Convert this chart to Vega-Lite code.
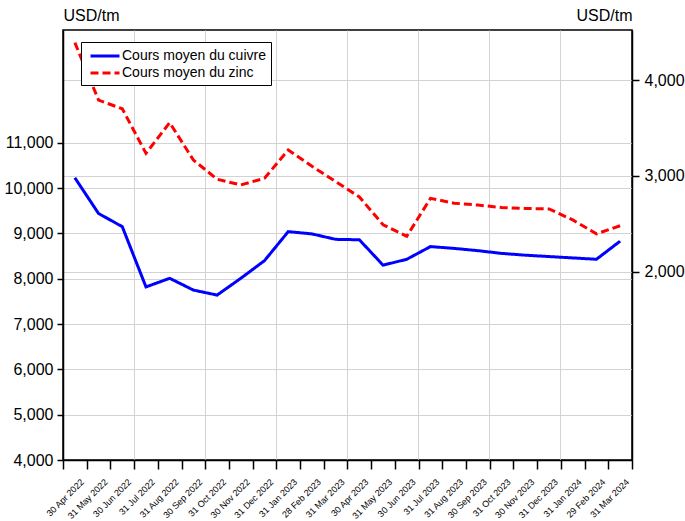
{
  "$schema": "https://vega.github.io/schema/vega-lite/v6.json",
  "width": 569,
  "height": 430,
  "autosize": {"type": "none"},
  "padding": {"left": 63, "top": 30, "right": 53, "bottom": 61},
  "background": "white",
  "config": {
    "font": "Liberation Sans",
    "view": {"stroke": "#000", "strokeWidth": 1.5},
    "axis": {
      "labelFont": "Liberation Sans",
      "titleFont": "Liberation Sans",
      "labelColor": "#000",
      "titleColor": "#000",
      "domainColor": "#000",
      "tickColor": "#000",
      "domainWidth": 1.5,
      "tickWidth": 1.5,
      "gridColor": "#d3d3d3",
      "gridWidth": 1,
      "titleFontWeight": "normal"
    },
    "legend": {
      "orient": "none",
      "legendX": 18,
      "legendY": 12,
      "symbolType": "M-2,0H2",
      "symbolSize": 210,
      "symbolStrokeWidth": 3,
      "symbolOffset": 10,
      "labelFontSize": 14,
      "labelFont": "Liberation Sans",
      "labelColor": "#000",
      "labelLimit": 400,
      "strokeColor": "#000",
      "fillColor": "#fff",
      "padding": 5,
      "rowPadding": 1,
      "labelOffset": 8
    }
  },
  "data": {
    "values": [
      {"date": "30 Apr 2022", "serie": "Cours moyen du cuivre", "value": 10230},
      {"date": "31 May 2022", "serie": "Cours moyen du cuivre", "value": 9440},
      {"date": "30 Jun 2022", "serie": "Cours moyen du cuivre", "value": 9150},
      {"date": "31 Jul 2022", "serie": "Cours moyen du cuivre", "value": 7820},
      {"date": "31 Aug 2022", "serie": "Cours moyen du cuivre", "value": 8010},
      {"date": "30 Sep 2022", "serie": "Cours moyen du cuivre", "value": 7750},
      {"date": "31 Oct 2022", "serie": "Cours moyen du cuivre", "value": 7640},
      {"date": "30 Nov 2022", "serie": "Cours moyen du cuivre", "value": 8010},
      {"date": "31 Dec 2022", "serie": "Cours moyen du cuivre", "value": 8400},
      {"date": "31 Jan 2023", "serie": "Cours moyen du cuivre", "value": 9040},
      {"date": "28 Feb 2023", "serie": "Cours moyen du cuivre", "value": 8990},
      {"date": "31 Mar 2023", "serie": "Cours moyen du cuivre", "value": 8870},
      {"date": "30 Apr 2023", "serie": "Cours moyen du cuivre", "value": 8860},
      {"date": "31 May 2023", "serie": "Cours moyen du cuivre", "value": 8300},
      {"date": "30 Jun 2023", "serie": "Cours moyen du cuivre", "value": 8430},
      {"date": "31 Jul 2023", "serie": "Cours moyen du cuivre", "value": 8710},
      {"date": "31 Aug 2023", "serie": "Cours moyen du cuivre", "value": 8670},
      {"date": "30 Sep 2023", "serie": "Cours moyen du cuivre", "value": 8620},
      {"date": "31 Oct 2023", "serie": "Cours moyen du cuivre", "value": 8560},
      {"date": "30 Nov 2023", "serie": "Cours moyen du cuivre", "value": 8520},
      {"date": "31 Dec 2023", "serie": "Cours moyen du cuivre", "value": 8490},
      {"date": "31 Jan 2024", "serie": "Cours moyen du cuivre", "value": 8460},
      {"date": "29 Feb 2024", "serie": "Cours moyen du cuivre", "value": 8430},
      {"date": "31 Mar 2024", "serie": "Cours moyen du cuivre", "value": 8830},
      {"date": "30 Apr 2022", "serie": "Cours moyen du zinc", "value": 4390},
      {"date": "31 May 2022", "serie": "Cours moyen du zinc", "value": 3790},
      {"date": "30 Jun 2022", "serie": "Cours moyen du zinc", "value": 3700},
      {"date": "31 Jul 2022", "serie": "Cours moyen du zinc", "value": 3235},
      {"date": "31 Aug 2022", "serie": "Cours moyen du zinc", "value": 3555},
      {"date": "30 Sep 2022", "serie": "Cours moyen du zinc", "value": 3165},
      {"date": "31 Oct 2022", "serie": "Cours moyen du zinc", "value": 2965},
      {"date": "30 Nov 2022", "serie": "Cours moyen du zinc", "value": 2905},
      {"date": "31 Dec 2022", "serie": "Cours moyen du zinc", "value": 2975},
      {"date": "31 Jan 2023", "serie": "Cours moyen du zinc", "value": 3270},
      {"date": "28 Feb 2023", "serie": "Cours moyen du zinc", "value": 3100},
      {"date": "31 Mar 2023", "serie": "Cours moyen du zinc", "value": 2940},
      {"date": "30 Apr 2023", "serie": "Cours moyen du zinc", "value": 2780},
      {"date": "31 May 2023", "serie": "Cours moyen du zinc", "value": 2490},
      {"date": "30 Jun 2023", "serie": "Cours moyen du zinc", "value": 2370},
      {"date": "31 Jul 2023", "serie": "Cours moyen du zinc", "value": 2765},
      {"date": "31 Aug 2023", "serie": "Cours moyen du zinc", "value": 2715},
      {"date": "30 Sep 2023", "serie": "Cours moyen du zinc", "value": 2695},
      {"date": "31 Oct 2023", "serie": "Cours moyen du zinc", "value": 2670},
      {"date": "30 Nov 2023", "serie": "Cours moyen du zinc", "value": 2660},
      {"date": "31 Dec 2023", "serie": "Cours moyen du zinc", "value": 2655},
      {"date": "31 Jan 2024", "serie": "Cours moyen du zinc", "value": 2540},
      {"date": "29 Feb 2024", "serie": "Cours moyen du zinc", "value": 2395},
      {"date": "31 Mar 2024", "serie": "Cours moyen du zinc", "value": 2480}
    ]
  },
  "layer": [
    {
      "transform": [{"filter": "datum.serie === 'Cours moyen du cuivre'"}],
      "mark": {"type": "line", "strokeWidth": 3},
      "encoding": {
        "x": {
          "field": "date", "type": "ordinal", "sort": null, "bandPosition": 0.5,
          "scale": {"type": "band", "paddingInner": 0, "paddingOuter": 0},
          "axis": {"orient": "bottom", "title": null, "grid": false, "tickBand": "extent", "tickSize": 9, "labelAngle": -45, "labelAlign": "right", "labelBaseline": "middle", "labelFontSize": 9, "labelPadding": 11, "labelOffset": 7}
        },
        "y": {
          "field": "value", "type": "quantitative",
          "scale": {"domain": [4000, 13490], "nice": false, "zero": false},
          "axis": {"orient": "left", "values": [4000, 5000, 6000, 7000, 8000, 9000, 10000, 11000], "format": ",d", "labelFontSize": 16, "tickSize": 6, "labelPadding": 4, "grid": true, "title": "USD/tm", "titleAngle": 0, "titleX": 0, "titleY": -15, "titleAlign": "left", "titleBaseline": "middle", "titleFontSize": 16}
        },
        "color": {"field": "serie", "type": "nominal", "scale": {"domain": ["Cours moyen du cuivre", "Cours moyen du zinc"], "range": ["#0000ff", "#ff0000"]}, "legend": {"title": null}},
        "strokeDash": {"field": "serie", "type": "nominal", "scale": {"domain": ["Cours moyen du cuivre", "Cours moyen du zinc"], "range": [[1, 0], [8, 4]]}, "legend": {"title": null}}
      }
    },
    {
      "transform": [{"filter": "datum.serie === 'Cours moyen du zinc'"}],
      "mark": {"type": "line", "strokeWidth": 3},
      "encoding": {
        "x": {
          "field": "date", "type": "ordinal", "sort": null, "bandPosition": 0.5,
          "scale": {"type": "band", "paddingInner": 0, "paddingOuter": 0},
          "axis": {"orient": "top", "title": null, "grid": true, "bandPosition": 0, "values": ["31 Jul 2022", "31 Oct 2022", "31 Jan 2023", "30 Apr 2023", "31 Jul 2023", "31 Oct 2023", "31 Jan 2024"], "ticks": false, "labels": false, "domain": false}
        },
        "y": {
          "field": "value", "type": "quantitative",
          "scale": {"domain": [35, 4522], "nice": false, "zero": false},
          "axis": {"orient": "right", "values": [2000, 3000, 4000], "format": ",d", "labelFontSize": 16, "tickSize": 7, "labelPadding": 5, "grid": true, "title": "USD/tm", "titleAngle": 0, "titleX": 0, "titleY": -15, "titleAlign": "right", "titleBaseline": "middle", "titleFontSize": 16}
        },
        "color": {"field": "serie", "type": "nominal", "scale": {"domain": ["Cours moyen du cuivre", "Cours moyen du zinc"], "range": ["#0000ff", "#ff0000"]}, "legend": {"title": null}},
        "strokeDash": {"field": "serie", "type": "nominal", "scale": {"domain": ["Cours moyen du cuivre", "Cours moyen du zinc"], "range": [[1, 0], [8, 4]]}, "legend": {"title": null}}
      }
    }
  ],
  "resolve": {"scale": {"y": "independent"}, "axis": {"x": "independent"}}
}
